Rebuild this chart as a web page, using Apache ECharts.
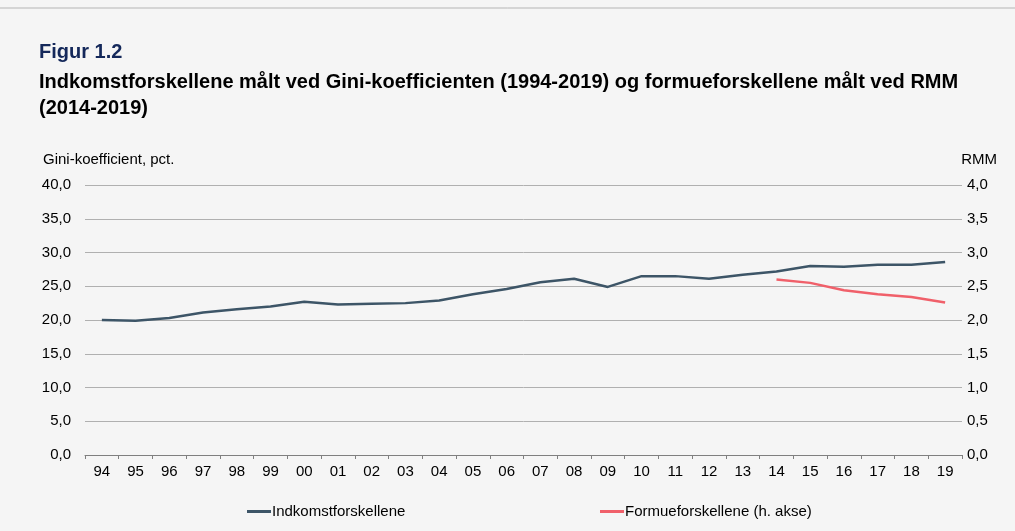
<!DOCTYPE html>
<html>
<head>
<meta charset="utf-8">
<script src="https://cdn.jsdelivr.net/npm/echarts@6/dist/echarts.min.js"></script>
<style>
  html, body { margin: 0; padding: 0; background: #f5f5f5; }
  #chart { width: 1015px; height: 531px; }
</style>
</head>
<body>
<div id="chart"></div>
<script>
// 年份标签
const years = ["94", "95", "96", "97", "98", "99", "00", "01", "02", "03", "04", "05", "06",
  "07", "08", "09", "10", "11", "12", "13", "14", "15", "16", "17", "18", "19"];
// Gini (venstre akse)
const gini = [20.0, 19.9, 20.3, 21.1, 21.6, 22.0, 22.7, 22.3, 22.4, 22.5, 22.9, 23.8, 24.6,
  25.6, 26.1, 24.9, 26.5, 26.5, 26.1, 26.7, 27.2, 28.0, 27.9, 28.2, 28.2, 28.6];
// RMM (højre akse), kun 2014-2019
const rmm = [null, null, null, null, null, null, null, null, null, null, null, null, null,
  null, null, null, null, null, null, null, 2.6, 2.55, 2.44, 2.38, 2.34, 2.26];

const font = "Liberation Sans, Arial, sans-serif";
const fmt = (d) => (v) => v.toFixed(d).replace(".", ",");

let myChart = echarts.init(document.getElementById("chart"));
let option = {
  backgroundColor: "#f5f5f5",
  textStyle: { fontFamily: font },
  animation: false,
  title: [
    {
      text: "Figur 1.2",
      left: 39, top: 42, padding: 0,
      textStyle: { color: "#14285a", fontSize: 20, fontWeight: "bold", lineHeight: 20, fontFamily: font },
    },
    {
      text: "Indkomstforskellene målt ved Gini-koefficienten (1994-2019) og formueforskellene målt ved RMM\n(2014-2019)",
      left: 39, top: 69, padding: 0,
      textStyle: { color: "#000", fontSize: 20, fontWeight: "bold", lineHeight: 26, fontFamily: font },
    },
  ],
  graphic: [
    {
      type: "line",
      shape: { x1: 0, y1: 8, x2: 1015, y2: 8 },
      style: { stroke: "#b5b5b5", lineWidth: 1 },
    },
    {
      type: "text", left: 43, top: 152,
      style: { text: "Gini-koefficient, pct.", fill: "#000", fontSize: 15, fontFamily: font },
    },
    {
      type: "text", right: 18, top: 152,
      style: { text: "RMM", fill: "#000", fontSize: 15, fontFamily: font },
    },
  ],
  legend: [
    {
      data: ["Indkomstforskellene"],
      left: 242, top: 499,
      icon: "rect", itemWidth: 24, itemHeight: 3, itemGap: 0,
      textStyle: { color: "#000", fontSize: 15, padding: [0, 0, 0, -4] },
    },
    {
      data: ["Formueforskellene (h. akse)"],
      left: 595, top: 499,
      icon: "rect", itemWidth: 24, itemHeight: 3, itemGap: 0,
      textStyle: { color: "#000", fontSize: 15, padding: [0, 0, 0, -4] },
    },
  ],
  grid: { left: 85, right: 53, top: 185, bottom: 76 },
  xAxis: {
    type: "category",
    data: years,
    boundaryGap: true,
    axisLine: { lineStyle: { color: "#7f7f7f", width: 1 } },
    axisTick: { show: true, length: 4, lineStyle: { color: "#7f7f7f" } },
    axisLabel: { color: "#000", fontSize: 15, margin: 9 },
  },
  yAxis: [
    {
      type: "value", min: 0, max: 40, interval: 5,
      axisLine: { show: false },
      axisTick: { show: false },
      axisLabel: { color: "#000", fontSize: 15, margin: 14, formatter: fmt(1) },
      splitLine: { lineStyle: { color: "#b0b0b0", width: 1 } },
    },
    {
      type: "value", min: 0, max: 4, interval: 0.5,
      axisLine: { show: false },
      axisTick: { show: false },
      axisLabel: { color: "#000", fontSize: 15, margin: 5, formatter: fmt(1) },
      splitLine: { show: false },
    },
  ],
  series: [
    {
      name: "Indkomstforskellene",
      type: "line",
      data: gini,
      yAxisIndex: 0,
      symbol: "none",
      lineStyle: { color: "#3d5567", width: 2.5 },
      itemStyle: { color: "#3d5567" },
    },
    {
      name: "Formueforskellene (h. akse)",
      type: "line",
      data: rmm,
      yAxisIndex: 1,
      symbol: "none",
      lineStyle: { color: "#f0606a", width: 2.5 },
      itemStyle: { color: "#f0606a" },
    },
  ],
};
myChart.setOption(option);
window.onresize = myChart.resize;
</script>
</body>
</html>
